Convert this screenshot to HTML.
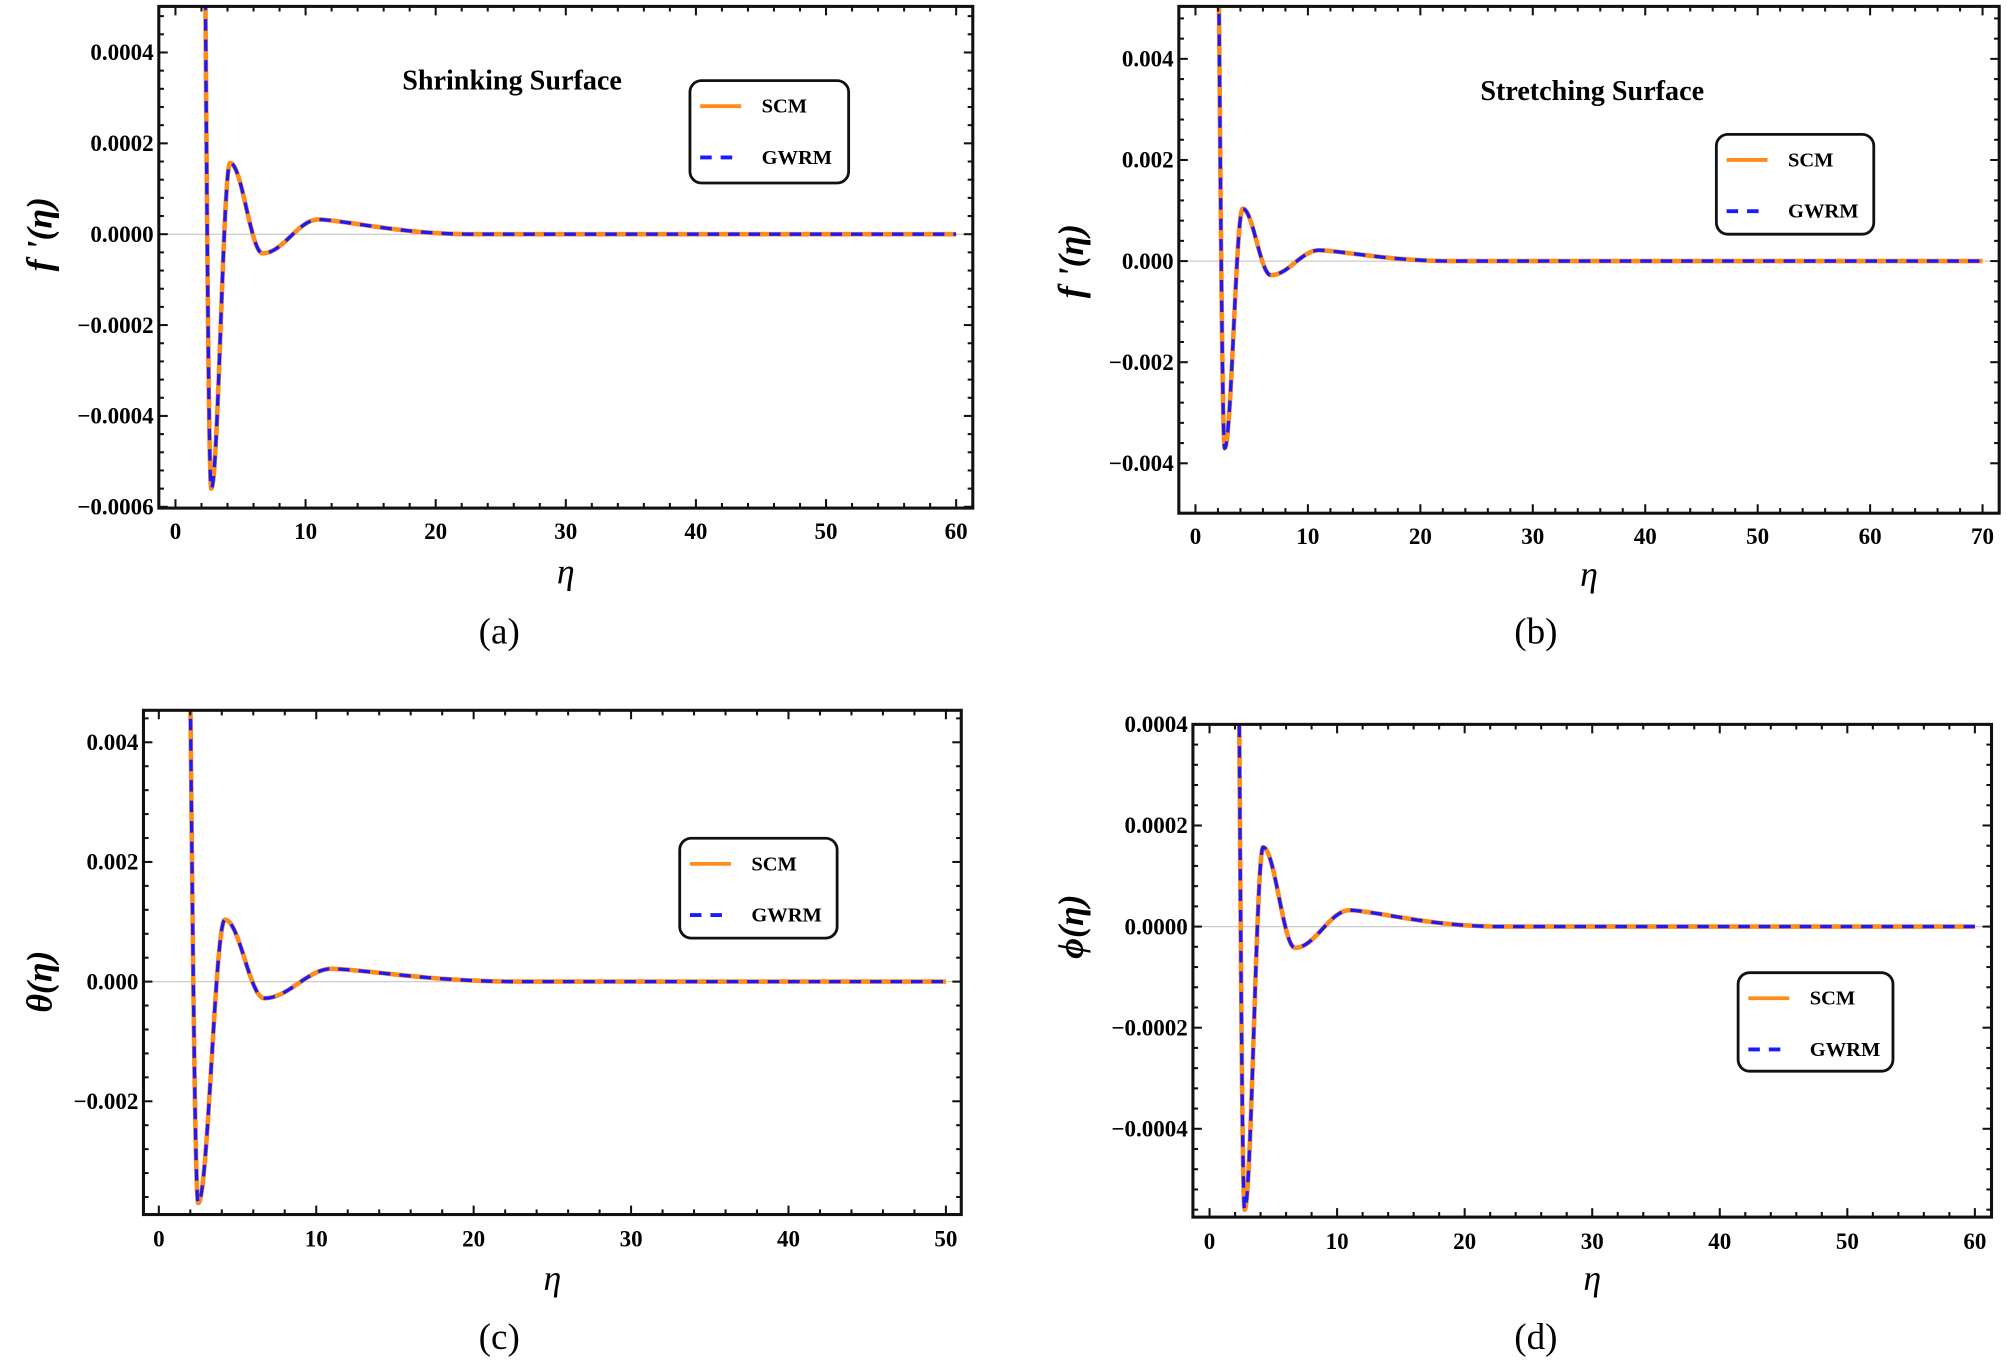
<!DOCTYPE html>
<html><head><meta charset="utf-8"><style>
html,body{margin:0;padding:0;background:#fff;}
svg{display:block;}
text{font-family:"Liberation Serif",serif;}
.tk{font-weight:bold;font-size:18px;}
.lg{font-weight:bold;font-size:16px;}
.tt{font-weight:bold;font-size:22px;}
.eta{font-style:italic;font-size:28px;}
.cap{font-size:29px;}
.yl{font-weight:bold;font-style:italic;font-size:28px;}
</style></head><body>
<svg id="s" width="2007" height="1363" viewBox="0 0 1568 1065" xmlns="http://www.w3.org/2000/svg"></svg>
<script>
const S=document.getElementById('s');let out='';
function makeCurve(xs){
 const ext=[[xs,-1],[4.2,0.28],[6.7,-0.075],[11,0.058],[23,0]];
 const r=[];
 const xa=xs-0.5,ya=1.3;
 r.push([xa-0.05,ya+0.35]);
 for(let i=0;i<=40;i++){const t=i/40;r.push([xa+(xs-xa)*t,-1+(ya+1)*(1-Math.sin(Math.PI/2*t))]);}
 for(let k=0;k<ext.length-1;k++){const [x0,y0]=ext[k],[x1,y1]=ext[k+1];for(let i=1;i<=60;i++){const t=i/60;let f;
  if(k===ext.length-2){f=(1-Math.cos(Math.PI*Math.pow(t,0.7)))/2;}else f=(1-Math.cos(Math.PI*t))/2;
  r.push([x0+(x1-x0)*t,y0+(y1-y0)*f]);}}
 r.push([200,0]);return r;
}
function panel(o,id){
 const {L,R,T,B,x0px,x1px,xmax,xstep,yv,ypx,ticksY,amp,xend,title,leg,ylab,ylx,cap,capx,capy,tky,etay,ylfmt,xmn}=o;
 const X=v=>x0px+(x1px-x0px)*v/xmax;
 const Y=v=>ypx[0]+(ypx[1]-ypx[0])*(v-yv[0])/(yv[1]-yv[0]);
 const curve=makeCurve(xmn);
 out+=`<clipPath id="c${id}"><rect x="${L}" y="${T}" width="${R-L}" height="${B-T}"/></clipPath>`;
 out+=`<line x1="${L}" x2="${R}" y1="${Y(0)}" y2="${Y(0)}" stroke="#ccc" stroke-width="1"/>`;
 let d='';let first=true;curve.forEach(p=>{if(p[0]>xend)return;d+=(first?'M':'L')+X(p[0]).toFixed(2)+','+Y(p[1]*amp).toFixed(2);first=false;});
 d+='L'+X(xend)+','+Y(0);
 out+=`<g clip-path="url(#c${id})"><path d="${d}" fill="none" stroke="#ff8c1a" stroke-width="3.6" stroke-linejoin="round"/><path d="${d}" fill="none" stroke="#1a1aff" stroke-width="2.6" stroke-dasharray="9 7"/></g>`;
 out+=`<rect x="${L}" y="${T}" width="${R-L}" height="${B-T}" fill="none" stroke="#111" stroke-width="2.4"/>`;
 for(let v=0;v<=xmax+1e-9;v+=xstep/5){const x=X(v);if(x<L||x>R)continue;const maj=Math.abs(v/xstep-Math.round(v/xstep))<1e-6;const len=maj?7:4;
  out+=`<line x1="${x}" x2="${x}" y1="${B}" y2="${B-len}" stroke="#111" stroke-width="1.6"/><line x1="${x}" x2="${x}" y1="${T}" y2="${T+len}" stroke="#111" stroke-width="1.6"/>`;
  if(maj)out+=`<text class="tk" x="${x}" y="${tky}" text-anchor="middle">${Math.round(v)}</text>`;}
 const st=ticksY.step;for(let v=ticksY.min;v<=ticksY.max+1e-12;v+=st/5){const y=Y(v);if(y<T-0.5||y>B+0.5)continue;const maj=Math.abs(v/st-Math.round(v/st))<1e-6;const len=maj?7:4;
  out+=`<line x1="${L}" x2="${L+len}" y1="${y}" y2="${y}" stroke="#111" stroke-width="1.6"/><line x1="${R}" x2="${R-len}" y1="${y}" y2="${y}" stroke="#111" stroke-width="1.6"/>`;
  if(maj){let s=Math.abs(v).toFixed(ylfmt);if(Math.round(v/st)<0)s='\u2212'+s;out+=`<text class="tk" x="${L-4}" y="${y+6}" text-anchor="end">${s}</text>`;}}
 if(title)out+=`<text class="tt" x="${title[0]}" y="${title[1]}" text-anchor="middle">${title[2]}</text>`;
 const [lx,ly,lw,lh]=leg;
 out+=`<rect x="${lx}" y="${ly}" width="${lw}" height="${lh}" rx="9" fill="#fff" stroke="#111" stroke-width="2.2"/>`;
 out+=`<line x1="${lx+8}" x2="${lx+40}" y1="${ly+20}" y2="${ly+20}" stroke="#ff8c1a" stroke-width="3"/><text class="lg" x="${lx+56}" y="${ly+25}">SCM</text>`;
 out+=`<line x1="${lx+8}" x2="${lx+40}" y1="${ly+60}" y2="${ly+60}" stroke="#1a1aff" stroke-width="3" stroke-dasharray="9 7"/><text class="lg" x="${lx+56}" y="${ly+65}">GWRM</text>`;
 out+=`<text class="yl" transform="translate(${ylx},${Y(0)}) rotate(-90)" text-anchor="middle">${ylab}</text>`;
 out+=`<text class="eta" x="${(L+R)/2}" y="${etay}" text-anchor="middle">η</text>`;
 out+=`<text class="cap" x="${capx}" y="${capy}" text-anchor="middle">${cap}</text>`;
}
panel({L:124,R:760,T:5,B:397,x0px:137,x1px:747,xmax:60,xstep:10,yv:[0,0.0004],ypx:[183,41],ticksY:{min:-0.0006,max:0.0005,step:0.0002},amp:0.00056,xend:60,xmn:2.75,
 title:[400,70,'Shrinking Surface'],leg:[539,63,124,80],ylab:"f '(η)",ylx:40,cap:'(a)',capx:390,capy:503,tky:421,etay:456,ylfmt:4},'a');
panel({L:921,R:1562,T:5,B:401,x0px:934,x1px:1549,xmax:70,xstep:10,yv:[0,0.004],ypx:[204,46],ticksY:{min:-0.004,max:0.005,step:0.002},amp:0.0037,xend:70,xmn:2.6,
 title:[1244,78,'Stretching Surface'],leg:[1341,105,123,78],ylab:"f '(η)",ylx:846,cap:'(b)',capx:1200,capy:503,tky:425,etay:458,ylfmt:3},'b');
panel({L:112,R:751,T:555,B:949,x0px:124,x1px:739,xmax:50,xstep:10,yv:[0,0.004],ypx:[767,580],ticksY:{min:-0.004,max:0.005,step:0.002},amp:0.0037,xend:50,xmn:2.5,
 title:null,leg:[531,655,123,78],ylab:"θ(η)",ylx:40,cap:'(c)',capx:390,capy:1054,tky:974,etay:1008,ylfmt:3},'c');
panel({L:932,R:1556,T:566,B:951,x0px:945,x1px:1543,xmax:60,xstep:10,yv:[0,0.0004],ypx:[724,566],ticksY:{min:-0.0006,max:0.0004,step:0.0002},amp:0.00056,xend:60,xmn:2.75,
 title:null,leg:[1358,760,121,77],ylab:"ϕ(η)",ylx:846,cap:'(d)',capx:1200,capy:1054,tky:976,etay:1008,ylfmt:4},'d');
S.innerHTML=out;
</script>
</body></html>
